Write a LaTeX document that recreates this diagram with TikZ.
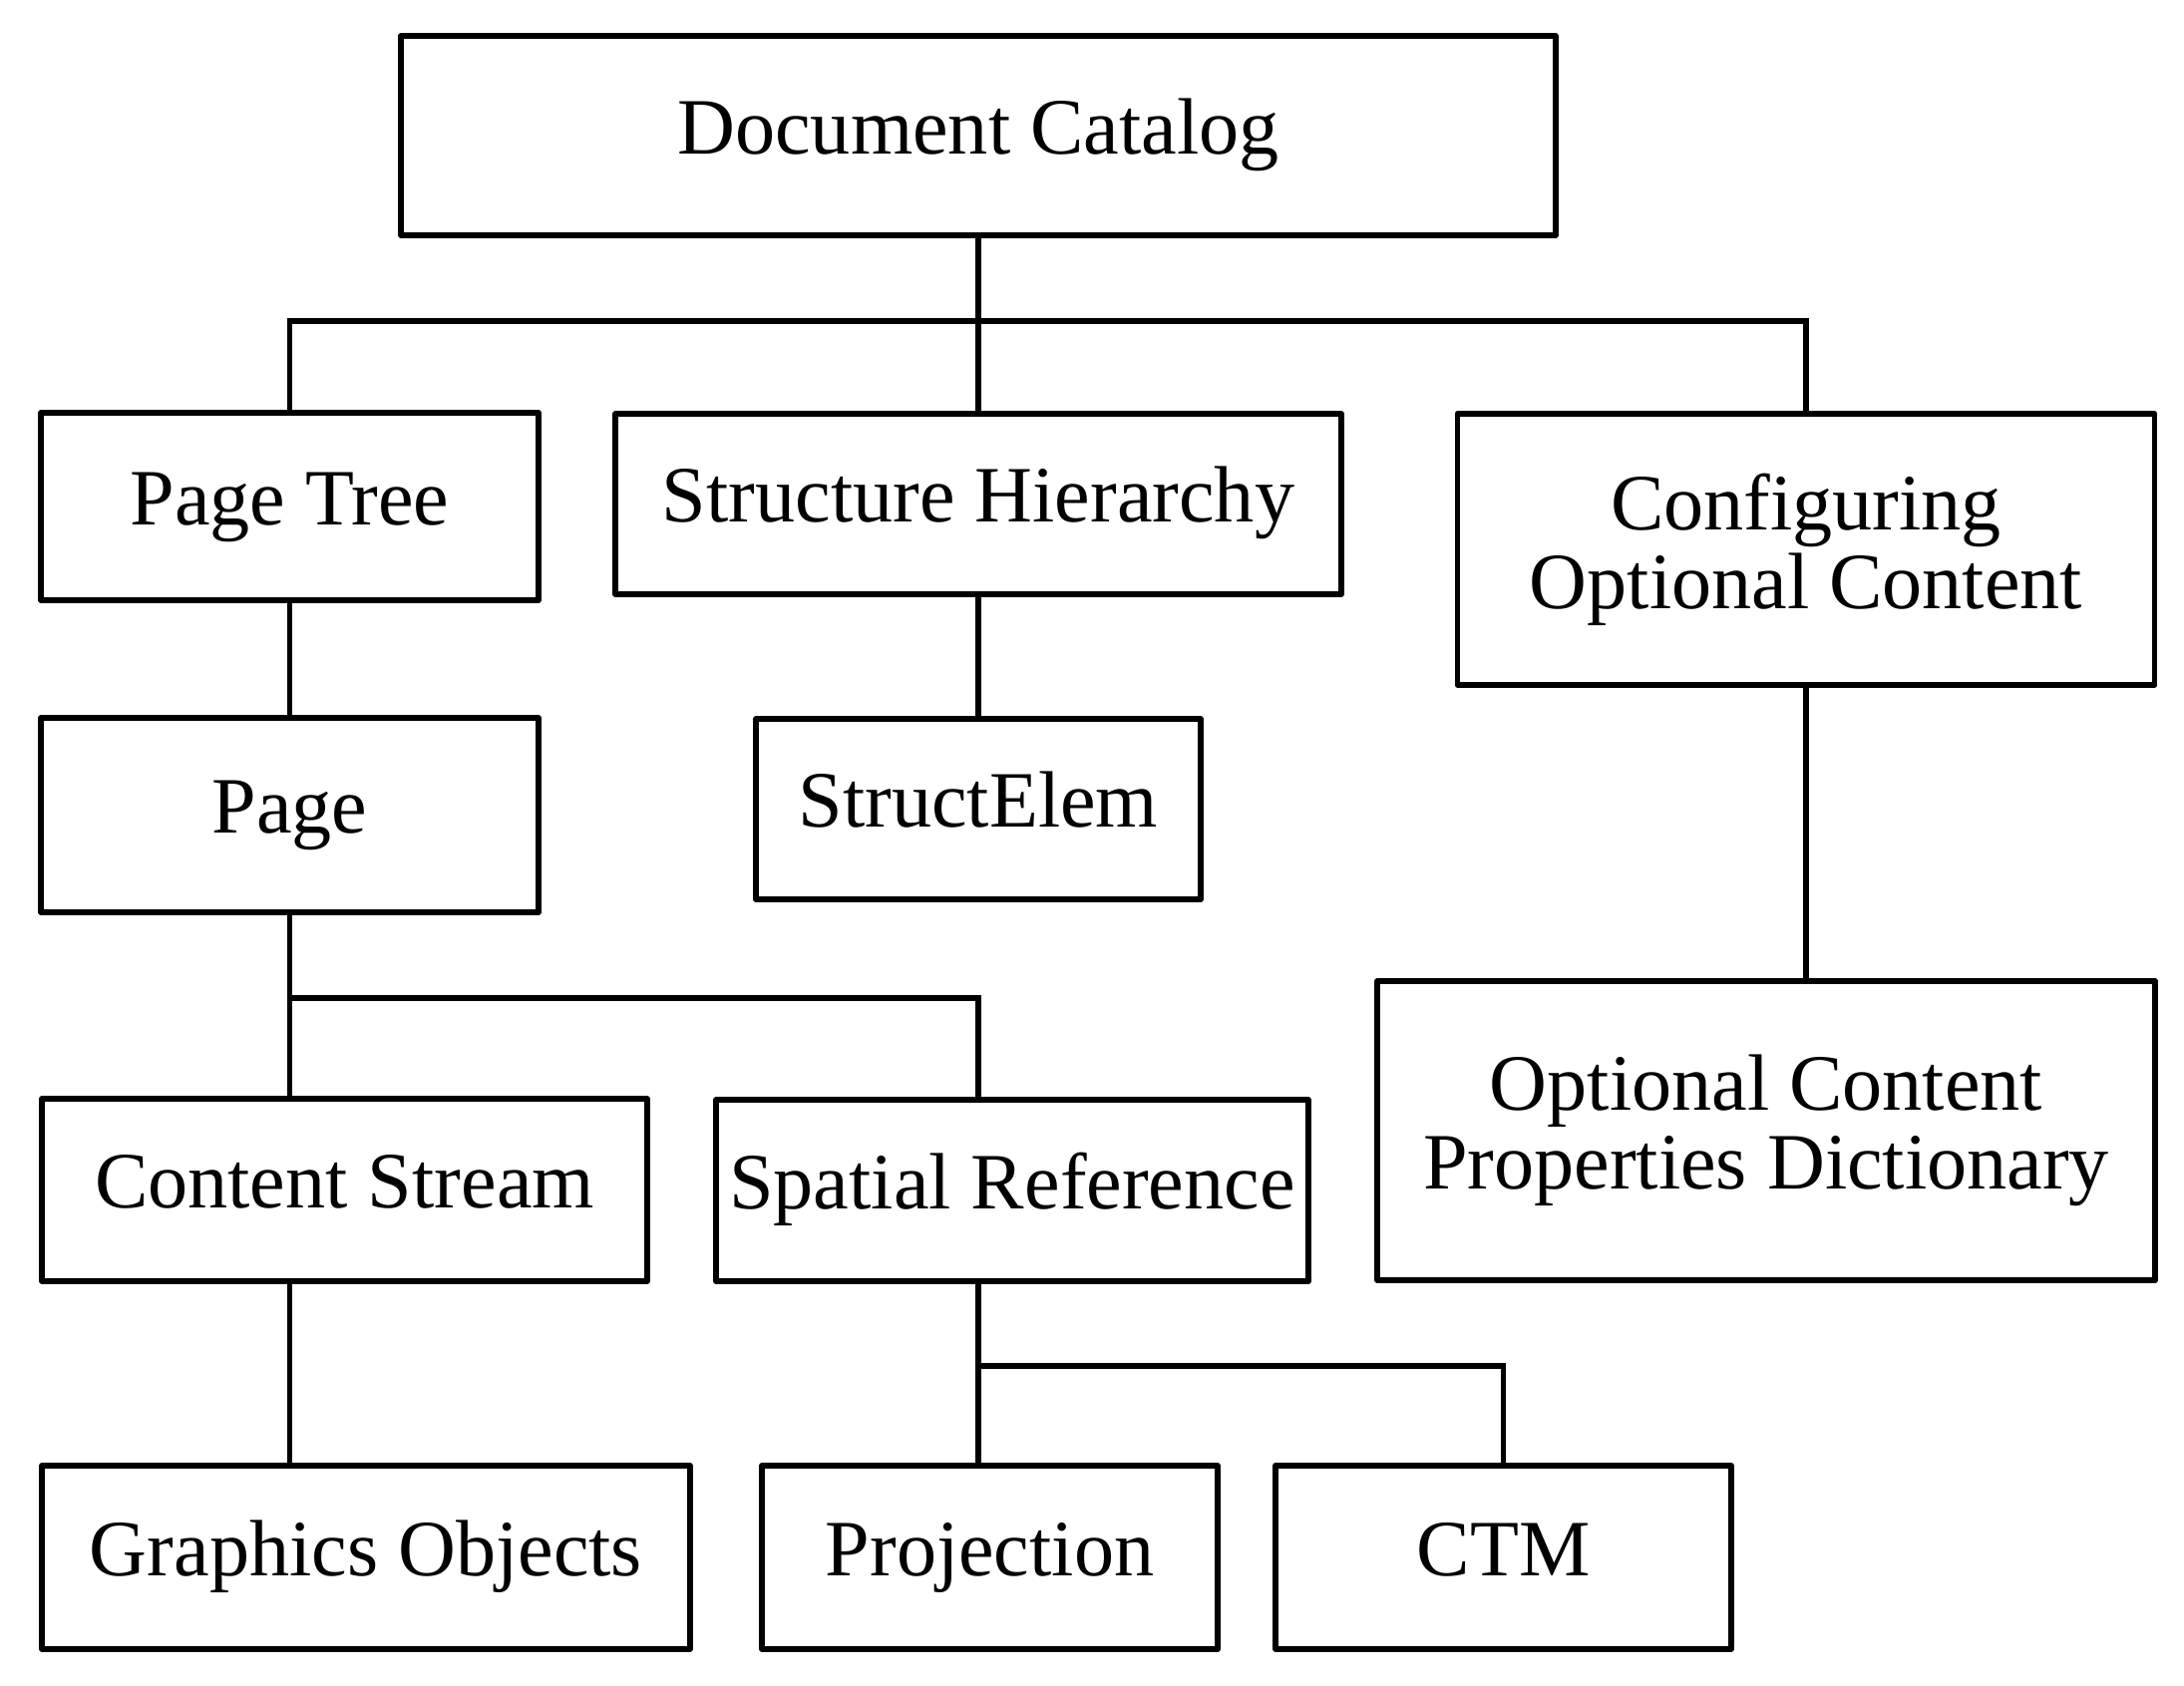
\documentclass[tikz,border=0pt]{standalone}
\usepackage{fontspec}
\setmainfont{Liberation Serif}
\usepackage{tikz}
\usetikzlibrary{positioning,calc}
\tikzset{
  objbox/.style = {rectangle, draw, line width=1.6pt, line join=round, align=center,
                   inner sep=0pt, font=\fontsize{22.8}{22.5}\selectfont},
  onebox/.style = {objbox, text height=15.5pt, text depth=5pt},
  link/.style = {line width=1.6pt},
}

\begin{document}
\begin{tikzpicture}[x=1cm,y=1cm]

  \useasboundingbox (0,0) rectangle (21.90,16.91);

  % Root
  \node[onebox, minimum width=11.58cm, minimum height=2.00cm] (cat) at (9.81, 15.55)
    {Document Catalog};

  % Level 1
  \node[onebox, minimum width=4.99cm, minimum height=1.88cm] (ptree) at (2.905, 11.83)
    {Page Tree};
  \node[onebox, minimum width=7.28cm, minimum height=1.81cm] (shier) at (9.81, 11.855)
    {Structure Hierarchy};
  \node[objbox, minimum width=6.99cm, minimum height=2.72cm] (config) at (18.11, 11.40)
    {Configuring\\Optional Content};

  % Level 2
  \node[onebox, minimum width=4.99cm, minimum height=1.95cm] (page) at (2.905, 8.735)
    {Page};
  \node[onebox, minimum width=4.46cm, minimum height=1.81cm] (selem) at (9.81, 8.795)
    {StructElem};
  \node[objbox, minimum width=7.80cm, minimum height=3.00cm] (ocpd) at (17.71, 5.57)
    {Optional Content\\Properties Dictionary};

  % Level 3
  \node[onebox, minimum width=6.07cm, minimum height=1.83cm] (cstream) at (3.455, 4.975)
    {Content Stream};
  \node[onebox, minimum width=5.94cm, minimum height=1.82cm] (sref) at (10.15, 4.97)
    {Spatial Reference};

  % Level 4
  \node[onebox, minimum width=6.50cm, minimum height=1.84cm] (gobj) at (3.67, 1.29)
    {Graphics Objects};
  \node[onebox, minimum width=4.57cm, minimum height=1.84cm] (proj) at (9.925, 1.29)
    {Projection};
  \node[onebox, minimum width=4.57cm, minimum height=1.84cm] (ctm) at (15.075, 1.29)
    {CTM};

  % Bus lines
  \coordinate (topbar) at (9.81, 13.69);
  \coordinate (pagebar) at (9.81, 6.90);
  \coordinate (srbar) at (9.81, 3.21);

  % Edges: catalog to level 1
  \draw[link] (cat.south) -- (topbar);
  \draw[link] (ptree.north) |- (topbar) -| (config.north);
  \draw[link] (topbar) -- (shier.north);

  % Edges: level 1 to level 2
  \draw[link] (ptree.south) -- (page.north);
  \draw[link] (shier.south) -- (selem.north);
  \draw[link] (config.south) -- (config.south |- ocpd.north);

  % Edges: page to level 3
  \draw[link] (page.south) -- (page.south |- cstream.north);
  \draw[link] (page.south |- pagebar) -- (pagebar) -- (pagebar |- sref.north);

  % Edges: level 3 to level 4
  \draw[link] (page.south |- cstream.south) -- (page.south |- gobj.north);
  \draw[link] (srbar |- sref.south) -- (srbar |- proj.north);
  \draw[link] (srbar) -| (ctm.north);

\end{tikzpicture}
\end{document}
